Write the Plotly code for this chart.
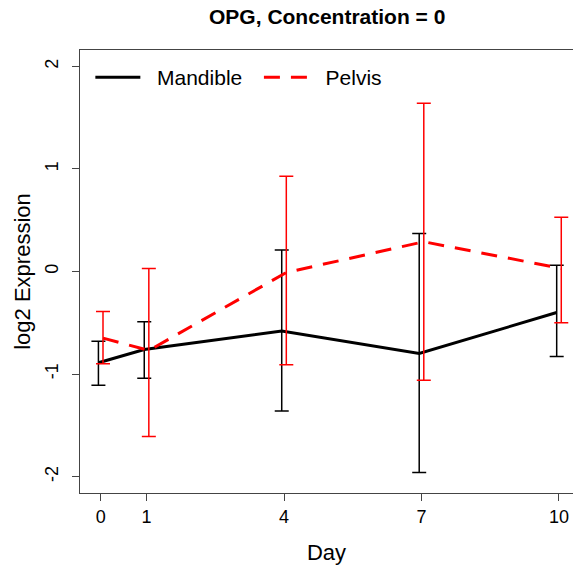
import plotly.graph_objects as go

days = [0, 1, 4, 7, 10]
y_ticks = [-2, -1, 0, 1, 2]
y_tick_labels = ["-2", "-1", "0", "1", "2"]
mandible_mean = [-0.89, -0.76, -0.58, -0.80, -0.40]
mandible_upper = [-0.68, -0.49, 0.21, 0.37, 0.06]
mandible_lower = [-1.11, -1.04, -1.36, -1.96, -0.83]
pelvis_mean = [-0.65, -0.77, -0.01, 0.29, 0.03]
pelvis_upper = [-0.39, 0.03, 0.93, 1.64, 0.53]
pelvis_lower = [-0.90, -1.61, -0.91, -1.06, -0.50]
offset = 0.05

def err(mean, up, lo):
    return [u - m for u, m in zip(up, mean)], [m - l for m, l in zip(mean, lo)]

m_up, m_lo = err(mandible_mean, mandible_upper, mandible_lower)
p_up, p_lo = err(pelvis_mean, pelvis_upper, pelvis_lower)

fig = go.Figure()
fig.add_trace(go.Scatter(
    x=[d - offset for d in days], y=mandible_mean, mode="lines",
    name="\u00a0\u00a0Mandible\u00a0\u00a0",
    line=dict(color="black", width=3),
    error_y=dict(type="data", symmetric=False, array=m_up, arrayminus=m_lo,
                 color="black", thickness=1.5, width=7),
))
fig.add_trace(go.Scatter(
    x=[d + offset for d in days], y=pelvis_mean, mode="lines",
    name="\u00a0\u00a0Pelvis",
    line=dict(color="red", width=3, dash="16px,11px"),
    error_y=dict(type="data", symmetric=False, array=p_up, arrayminus=p_lo,
                 color="red", thickness=1.5, width=7),
))

font = "Liberation Sans, Arial, sans-serif"
fig.update_layout(
    width=573, height=570,
    margin=dict(l=80, r=0, t=50, b=77),
    paper_bgcolor="white", plot_bgcolor="white",
    font=dict(family=font, size=18, color="black"),
    title=dict(text="<b>OPG, Concentration = 0</b>", x=0.571, xanchor="center",
               y=0.970, yanchor="middle", font=dict(size=21)),
    showlegend=True,
    legend=dict(orientation="h", x=0.021, xanchor="left", y=0.984, yanchor="top",
                bgcolor="rgba(0,0,0,0)", font=dict(size=21), itemwidth=45,
                tracegroupgap=0),
    xaxis=dict(range=[-0.452, 10.306], tickvals=days, ticktext=[str(d) for d in days],
               showgrid=False, zeroline=False, showline=True, linecolor="#444",
               linewidth=1, mirror=True, ticks="outside", ticklen=7, tickcolor="#444",
               automargin=False, title=dict(text="Day", standoff=19),
               tickfont=dict(size=18)),
    yaxis=dict(range=[-2.16, 2.16], tickvals=y_ticks, ticktext=y_tick_labels,
               showgrid=False, zeroline=False, showline=True, linecolor="#444",
               linewidth=1, ticks="outside", ticklen=7, tickcolor="#444",
               automargin=False, tickangle=-90, ticklabelstandoff=7,
               title=dict(text="log2 Expression", standoff=5),
               tickfont=dict(size=18)),
)

fig.write_html("out.html", config={"displayModeBar": False},
               post_script="document.body.style.margin='0px';")
